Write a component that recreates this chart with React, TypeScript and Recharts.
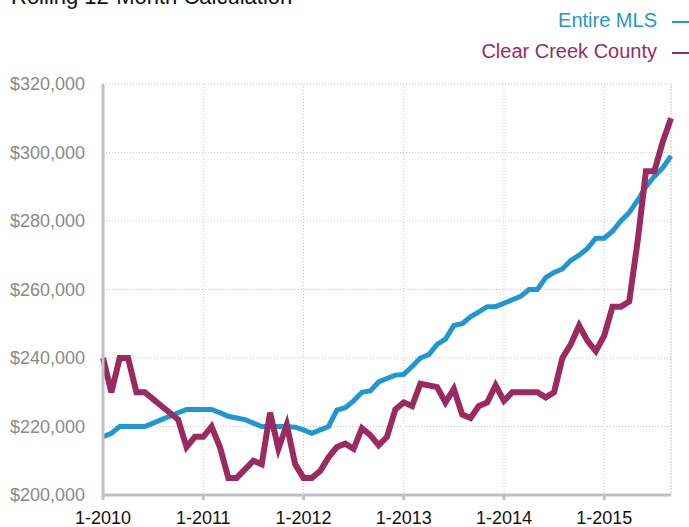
import React from "react";
import { LineChart, Line, XAxis, YAxis, CartesianGrid, ReferenceLine } from "recharts";

const years = ["2010", "2011", "2012", "2013", "2014", "2015"];
const months: string[] = [];
years.forEach((y) => {
  for (let m = 1; m <= 12; m++) months.push(`${m}-${y}`);
});
const categories = months.slice(0, 69); // 1-2010 .. 9-2015

const entireMLS = [
  217, 218, 220, 220, 220, 220, 221, 222, 223, 224, 225, 225,
  225, 225, 224, 223, 222.5, 222, 221, 220, 220, 220, 220, 219.8,
  219, 218, 219, 220, 224.8, 225.5, 227.5, 230, 230.4, 233, 234, 235,
  235.2, 237.5, 240, 241, 244, 245.5, 249.5, 250, 252, 253.5, 255, 255,
  256, 257, 258, 260, 260, 263.5, 265, 266, 268.5, 270, 272, 275,
  275, 277, 280, 282.5, 286, 290, 293, 295.5, 299,
];

const clearCreek = [
  240, 230, 240, 240, 230, 230, 228, 226, 224, 222, 214, 217,
  217, 220, 214, 205, 205, 207.5, 210, 209, 224, 213.5, 220.5, 209,
  205, 205, 207, 211, 214, 215, 213.5, 219.5, 217.5, 214.5, 217, 225,
  227, 226, 232.5, 232, 231.5, 227, 231, 223.5, 222.5, 226, 227, 232,
  227.5, 230, 230, 230, 230, 228.5, 230, 240, 244, 249.5, 245, 242,
  246.5, 255, 255, 256.5, 274, 294.5, 294.5, 303, 310,
];

const yTicks = [200000, 220000, 240000, 260000, 280000, 300000, 320000];

const data = categories.map((c, i) => ({
  month: c,
  mls: entireMLS[i] * 1000,
  ccc: clearCreek[i] * 1000,
}));

const BLUE = "#1f97d5";
const RED = "#9b2a60";
const FONT = "'Liberation Sans', Arial, Helvetica, sans-serif";

const fmt = (v: number) => "$" + v.toLocaleString("en-US");

export default function App() {
  return (
    <div style={{ position: "absolute", left: 0, top: 0, width: 689, height: 527, overflow: "hidden", background: "#fff" }}>
      <LineChart
        width={689}
        height={527}
        data={data}
        margin={{ top: 84, right: 18, bottom: 2, left: 0 }}
        style={{ fontFamily: FONT }}
      >
        <CartesianGrid stroke="#c4c4c4" strokeDasharray="1 2" strokeWidth={1} />
        <XAxis
          dataKey="month"
          height={30}
          interval={11}
          axisLine={{ stroke: "#c0c0c0", strokeWidth: 3 }}
          tickLine={{ stroke: "#c0c0c0", strokeWidth: 3 }}
          tickSize={5}
          tickMargin={11}
          tick={{ fill: "#111", fontSize: 18, fontFamily: FONT }}
        />
        <YAxis
          width={103}
          domain={[200000, 320000]}
          ticks={yTicks}
          tickFormatter={fmt}
          axisLine={{ stroke: "#c0c0c0", strokeWidth: 3 }}
          tickLine={false}
          tickSize={0}
          tickMargin={18}
          tick={{ fill: "#8a8a8a", fontSize: 18, fontFamily: FONT }}
        />
        <ReferenceLine x={categories[categories.length - 1]} stroke="#c4c4c4" strokeDasharray="1 2" />
        <Line
          dataKey="mls"
          stroke={BLUE}
          strokeWidth={5}
          dot={false}
          type="linear"
          isAnimationActive={false}
        />
        <Line
          dataKey="ccc"
          stroke={RED}
          strokeWidth={6}
          dot={false}
          type="linear"
          isAnimationActive={false}
        />
      </LineChart>
      <svg width={689} height={527} style={{ position: "absolute", left: 0, top: 0, pointerEvents: "none" }}>
        <text x={11} y={4} fontSize={22} fontFamily={FONT} fill="#111">
          Rolling 12-Month Calculation
        </text>
        <text x={657} y={27} fontSize={20} fontFamily={FONT} fill={BLUE} textAnchor="end">
          Entire MLS
        </text>
        <line x1={672} x2={690} y1={22} y2={22} stroke={BLUE} strokeWidth={2} />
        <text x={657} y={58} fontSize={20} fontFamily={FONT} fill={RED} textAnchor="end">
          Clear Creek County
        </text>
        <line x1={672} x2={690} y1={53} y2={53} stroke={RED} strokeWidth={2} />
      </svg>
    </div>
  );
}
